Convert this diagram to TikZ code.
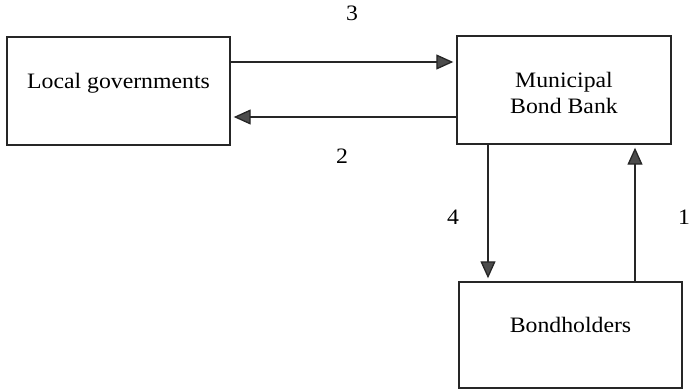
\documentclass[tikz,border=0pt]{standalone}
\usepackage{fontspec}
\setmainfont{Liberation Serif}[FakeStretch=1.08]
\usetikzlibrary{arrows.meta}
\begin{document}
\begin{tikzpicture}[x=1pt,y=-1pt,
				font=\fontsize{22}{26}\selectfont,
				box/.style={draw=black!85,line width=1.4pt,inner sep=0pt,minimum width=223pt,minimum height=108pt,align=center},
				flow/.style={draw=black!85,line width=1.3pt,shorten >=3pt,-{Triangle[length=17pt,width=15pt,fill=black!70]}}]
\useasboundingbox (0,0) rectangle (691,391);
\node[box] (local) at (118.5,91) {\raisebox{3pt}[0pt][0pt]{Local governments}};
\node[box,minimum width=214pt] (bank) at (564,90) {\raisebox{-23pt}[0pt][0pt]{\begin{tabular}[b]{@{}c@{}}Municipal\\Bond Bank\end{tabular}}};
\node[box,minimum height=106pt] (holders) at (570.5,335) {\raisebox{3pt}[0pt][0pt]{Bondholders}};
\draw[flow] ([yshift=29pt]local.east) -- ([yshift=29pt]local.east -| bank.west);
\draw[flow] ([yshift=-27pt]bank.west) -- ([yshift=-27pt]bank.west -| local.east);
\draw[flow] ([xshift=-76pt]bank.south) -- ([xshift=-76pt]bank.south |- holders.north);
\draw[flow] ([xshift=64.5pt]holders.north) -- ([xshift=64.5pt]holders.north |- bank.south);
\node (three) at (352,13) {3};
\node (two) at (342,156) {2};
\node (four) at (453,217) {4};
\node (one) at (684,217) {1};
\end{tikzpicture}
\end{document}
